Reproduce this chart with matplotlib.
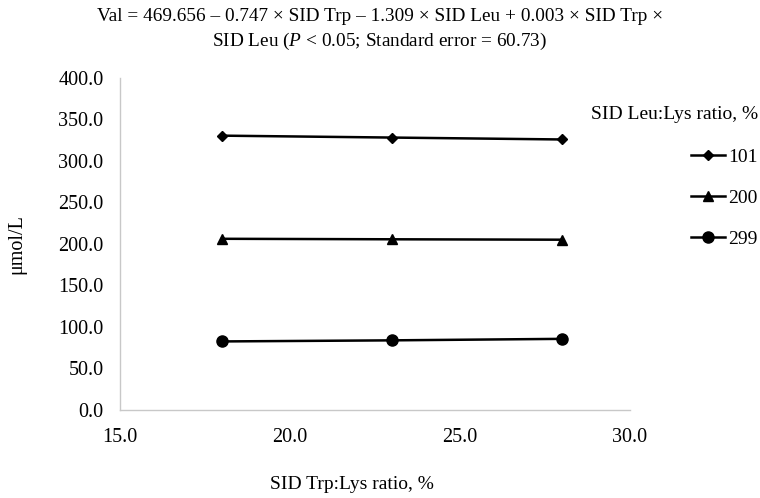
import matplotlib
matplotlib.use('Agg')
import matplotlib.pyplot as plt

plt.rcParams['font.family'] = ['Liberation Serif', 'DejaVu Serif']
plt.rcParams['mathtext.fontset'] = 'custom'
plt.rcParams['mathtext.it'] = 'Liberation Serif:italic'

# data
trp = [18, 23, 28]
leu_levels = ['101', '200', '299']
val_101 = [330.2, 327.9, 325.6]
val_200 = [206.0, 205.4, 204.9]
val_299 = [82.4, 83.7, 85.5]
markers = ['D', '^', 'o']
msizes = [5, 7, 8]

fig = plt.figure(figsize=(7.6, 4.98), dpi=100)
ax = fig.add_axes([0.158, 0.177, 0.671, 0.667])

for vals, lab, m, ms in zip([val_101, val_200, val_299], leu_levels, markers, msizes):
    ax.plot(trp, vals, color='black', lw=1.8, marker=m, markersize=ms, label=lab)

ax.set_xlim(15, 30)
ax.set_ylim(0, 400)
ax.set_xticks([15, 20, 25, 30])
ax.set_yticks(range(0, 401, 50))
ax.xaxis.set_major_formatter(matplotlib.ticker.FormatStrFormatter('%.1f'))
ax.yaxis.set_major_formatter(matplotlib.ticker.FormatStrFormatter('%.1f'))
ax.tick_params(length=0, labelsize=14.5)
ax.tick_params(axis='y', pad=12)
ax.tick_params(axis='x', pad=13)

for s in ['top', 'right']:
    ax.spines[s].set_visible(False)
for s in ['left', 'bottom']:
    ax.spines[s].set_color('#c8c8c8')
    ax.spines[s].set_linewidth(1)

ax.set_ylabel('μmol/L', fontsize=14.5)
ax.yaxis.set_label_coords(-0.183, 0.5)
ax.set_xlabel('SID Trp:Lys ratio, %', fontsize=14)
ax.xaxis.set_label_coords(0.455, -0.2)

fig.text(0.5, 0.983,
         'Val = 469.656 – 0.747 × SID Trp – 1.309 × SID Leu + 0.003 × SID Trp ×\n'
         'SID Leu ($P$ < 0.05; Standard error = 60.73)',
         ha='center', va='top', fontsize=13.9, linespacing=1.35)

leg = ax.legend(title='SID Leu:Lys ratio, %', loc='upper right',
                bbox_to_anchor=(0.997, 0.787), bbox_transform=fig.transFigure,
                frameon=False, fontsize=14, title_fontsize=14,
                alignment='right', labelspacing=1.2, handlelength=1.75,
                handletextpad=0.15, borderaxespad=0, borderpad=0)
leg._legend_box.sep = 18

fig.savefig('out.png', dpi=100)
